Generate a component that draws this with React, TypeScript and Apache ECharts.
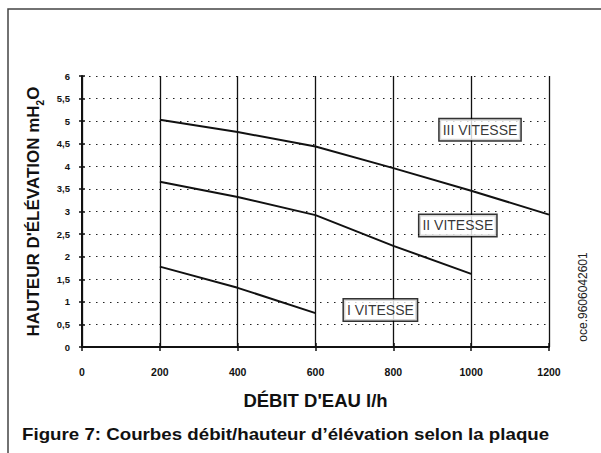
import React, { useEffect, useRef } from "react";
import * as echarts from "echarts";

const flowIII = [200, 400, 600, 800, 1000, 1200];
const headIII = [5.03, 4.76, 4.44, 3.96, 3.46, 2.93];
const flowII = [200, 400, 600, 800, 1000];
const headII = [3.66, 3.32, 2.92, 2.24, 1.62];
const flowI = [200, 400, 600];
const headI = [1.78, 1.31, 0.75];

const labelNames = ["III VITESSE", "II VITESSE", "I VITESSE"];
const labelFlow = [1024, 967, 768];
const labelHead = [4.8, 2.68, 0.81];

const xAxisName = "DÉBIT D'EAU l/h";
const caption = "Figure 7: Courbes débit/hauteur d’élévation selon la plaque";
const sideCode = "oce.9606042601";

const FONT = "'Liberation Sans', Arial, sans-serif";

export default function App() {
  const ref = useRef<HTMLDivElement>(null);
  useEffect(() => {
    if (!ref.current) return;
    const chart = echarts.init(ref.current, null, { renderer: "svg" });
    const pts = (xs: number[], ys: number[]) => xs.map((x, i) => [x, ys[i]]);
    const lineSeries = (xs: number[], ys: number[]) => ({
      type: "line",
      data: pts(xs, ys),
      showSymbol: false,
      symbol: "none",
      lineStyle: { color: "#111", width: 2 },
      z: 3,
    });
    const baseX = {
      type: "value",
      min: 0,
      max: 1200,
      interval: 200,
    };
    const baseY = {
      type: "value",
      min: 0,
      max: 6,
      interval: 0.5,
    };
    chart.setOption({
      animation: false,
      textStyle: { fontFamily: FONT },
      grid: { left: 82, right: 52, top: 76, bottom: 106, containLabel: false },
      xAxis: [
        {
          ...baseX,
          name: xAxisName,
          nameLocation: "middle",
          nameGap: 44,
          nameTextStyle: { fontSize: 18.5, fontWeight: "bold", color: "#111", fontFamily: FONT },
          axisLine: { show: true, lineStyle: { color: "#111", width: 2 } },
          axisTick: { show: true, length: 4, lineStyle: { color: "#111", width: 1.5 } },
          axisLabel: {
            fontSize: 10.5,
            fontWeight: "bold",
            color: "#111",
            margin: 19,
            fontFamily: FONT,
            formatter: (v: number) => String(v),
          },
          splitLine: { show: true, lineStyle: { color: "#111", width: 1.3, type: "solid" } },
        },
        {
          ...baseX,
          position: "bottom",
          axisLine: { show: false },
          axisTick: { show: true, inside: true, length: 4, lineStyle: { color: "#111", width: 1.5 } },
          axisLabel: { show: false },
          splitLine: { show: false },
        },
      ],
      yAxis: [
        {
          ...baseY,
          name: "{a|HAUTEUR D'ÉLÉVATION mH}{s|2}{a|O}",
          nameLocation: "middle",
          nameGap: 40,
          nameRotate: 90,
          nameTextStyle: {
            color: "#111",
            fontFamily: FONT,
            rich: {
              a: { fontSize: 17, fontWeight: "bold", color: "#111", fontFamily: FONT, lineHeight: 20, verticalAlign: "bottom" },
              s: { fontSize: 10, fontWeight: "bold", color: "#111", fontFamily: FONT, lineHeight: 20, verticalAlign: "bottom", padding: [0, 0, -3, 0] },
            },
          },
          axisLine: { show: true, lineStyle: { color: "#111", width: 2 } },
          axisTick: { show: true, length: 3, lineStyle: { color: "#111", width: 1.5 } },
          axisLabel: {
            fontSize: 9.5,
            fontWeight: "bold",
            color: "#111",
            margin: 12,
            fontFamily: FONT,
            formatter: (v: number) => String(v).replace(".", ","),
          },
          splitLine: { show: true, lineStyle: { color: "#222", width: 1.2, type: [1.5, 5.5] } },
        },
        {
          ...baseY,
          position: "left",
          axisLine: { show: false },
          axisTick: { show: true, inside: true, length: 3, lineStyle: { color: "#111", width: 1.5 } },
          axisLabel: { show: false },
          splitLine: { show: false },
        },
      ],
      series: [
        lineSeries(flowIII, headIII),
        lineSeries(flowII, headII),
        lineSeries(flowI, headI),
        {
          type: "scatter",
          symbolSize: 1,
          itemStyle: { color: "rgba(0,0,0,0)" },
          z: 5,
          data: labelNames.map((n, i) => ({ name: n, value: [labelFlow[i], labelHead[i]] })),
          label: {
            show: true,
            position: [0, 0],
            align: "center",
            verticalAlign: "middle",
            formatter: (p: any) => p.name,
            fontSize: 14,
            color: "#000",
            textBorderWidth: 0,
            textBorderColor: "transparent",
            fontFamily: FONT,
            backgroundColor: "#fff",
            borderColor: "#000",
            borderWidth: 1.5,
            padding: [3, 3, 2, 3],
            lineHeight: 16,
          },
        },
      ],
      graphic: [
        {
          type: "rect",
          shape: { x: 8, y: 9, width: 640, height: 480 },
          style: { fill: "none", stroke: "#444", lineWidth: 1.5 },
          silent: true,
        },
        {
          type: "text",
          x: 22,
          y: 434,
          scaleX: 1.17,
          style: {
            text: caption,
            fontSize: 16,
            fontWeight: "bold",
            fill: "#111",
            fontFamily: FONT,
            textAlign: "left",
            textVerticalAlign: "middle",
          },
        },
        {
          type: "text",
          x: 583,
          y: 297,
          rotation: Math.PI / 2,
          style: {
            text: sideCode,
            fontSize: 12,
            fill: "#222",
            fontFamily: FONT,
            textAlign: "center",
            textVerticalAlign: "middle",
          },
        },
      ],
    });
    return () => chart.dispose();
  }, []);
  return (
    <div
      ref={ref}
      style={{ position: "fixed", left: 0, top: 0, width: 601, height: 453, background: "#fff" }}
    />
  );
}
